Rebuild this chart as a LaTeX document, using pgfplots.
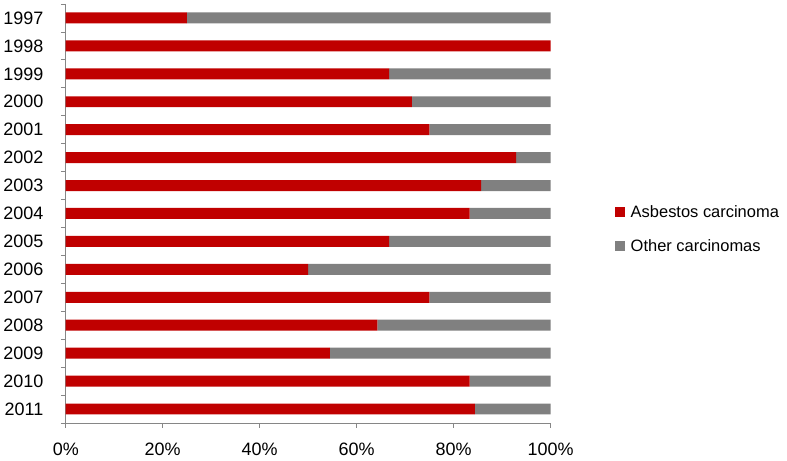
\documentclass[border=0pt]{standalone}
\usepackage{pgfplots}
\pgfplotsset{compat=1.18}
\usepackage{fontspec}
\setmainfont{Liberation Sans}
\definecolor{asb}{HTML}{C00000}
\definecolor{oth}{HTML}{808080}
\definecolor{axc}{HTML}{868686}
\begin{document}
\begin{tikzpicture}[x=1pt,y=1pt]
\begin{axis}[
  name=main,
  at={(0pt,0pt)}, anchor=south west,
  scale only axis,
  width=486pt, height=420pt,
  xbar stacked,
  bar width=11pt,
  xmin=0, xmax=100,
  ymin=0.5, ymax=15.5,
  y dir=reverse,
  axis x line*=bottom,
  axis y line*=left,
  axis line style={axc, line width=0.8pt, -},
  xtick={0,20,40,60,80,100},
  xticklabels={0\%,20\%,40\%,60\%,80\%,100\%},
  ytick={0.5,1.5,...,15.5},
  yticklabels={1997,1998,1999,2000,2001,2002,2003,2004,2005,2006,2007,2008,2009,2010,2011,{}},
  major tick length=5pt,
  tick align=outside,
  tick style={axc, line width=0.8pt},
  every tick label/.append style={font=\fontsize{18}{20}\selectfont},
  yticklabel style={xshift=-14pt, yshift=-14pt},
  xticklabel style={yshift=-11pt},
  legend style={draw=none, at={(1.132,0.463)}, anchor=west, inner sep=0pt,
    font=\fontsize{16.5}{19}\selectfont, row sep=17pt, cells={anchor=west}},
  legend cell align=left,
  clip=false,
]
\addplot[fill=asb, draw=none, legend image code/.code={\fill[asb] (0pt,-5pt) rectangle (10pt,5pt); \path (14pt,0pt);}] coordinates {
(25,1) (100,2) (66.7,3) (71.4,4) (75,5) (92.9,6) (85.7,7) (83.3,8) (66.7,9) (50,10) (75,11) (64.3,12) (54.5,13) (83.3,14) (84.4,15)};
\addlegendentry{Asbestos carcinoma}
\addplot[fill=oth, draw=none, legend image code/.code={\fill[oth] (0pt,-5pt) rectangle (10pt,5pt); \path (14pt,0pt);}] coordinates {
(75,1) (0,2) (33.3,3) (28.6,4) (25,5) (7.1,6) (14.3,7) (16.7,8) (33.3,9) (50,10) (25,11) (35.7,12) (45.5,13) (16.7,14) (15.6,15)};
\addlegendentry{Other carcinomas}
\end{axis}
\useasboundingbox (main.south west) ++(-64pt,-38pt) rectangle ++(787pt,462pt);
\end{tikzpicture}
\end{document}
